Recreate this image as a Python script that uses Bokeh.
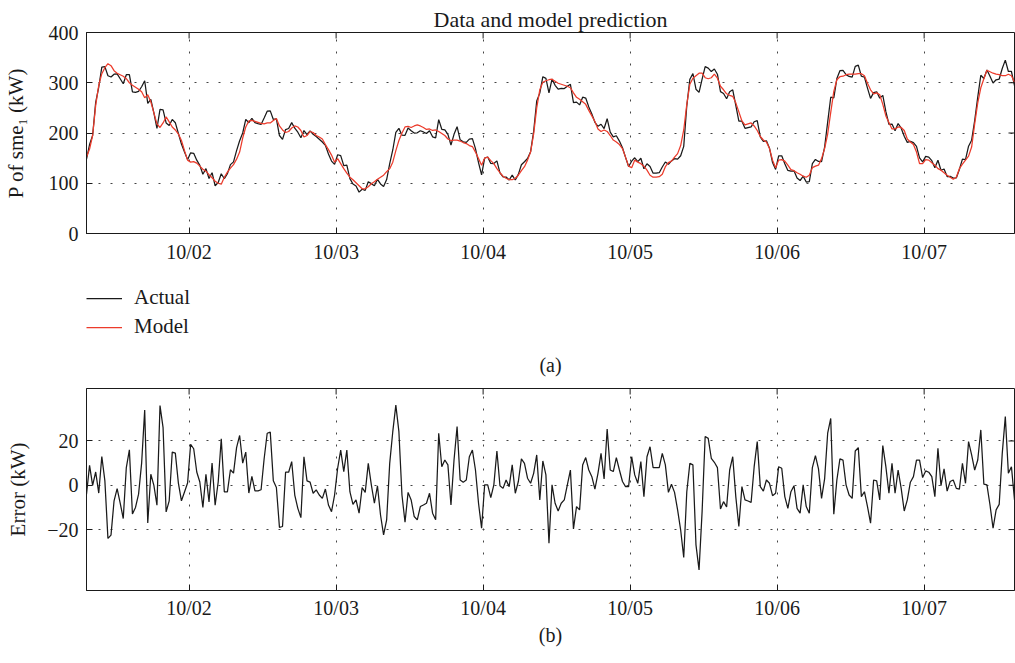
import math
import datetime as dt
from bokeh.plotting import figure
from bokeh.models import (FixedTicker, DatetimeTickFormatter, Legend, Title,
                          Range1d, ColumnDataSource)
from bokeh.layouts import column
from bokeh.embed import file_html
from bokeh.resources import INLINE

# ---------------- data (30-min samples) ----------------
start_time = dt.datetime(2014, 10, 1, 7, 15)
step_minutes = 30

model = [
    152, 168, 195, 255, 295, 318, 330, 338, 334, 324,
    319, 316, 313, 308, 300, 295, 291, 287, 282, 270,
    276, 262, 240, 218, 211, 220, 232, 222, 212, 206,
    198, 185, 165, 146, 142, 143, 140, 134, 128, 124,
    117, 111, 104, 100, 98, 112, 122, 130, 137, 148,
    162, 190, 212, 224, 225, 223, 221, 219, 218, 220,
    220, 225, 229, 214, 206, 201, 203, 210, 214, 212,
    205, 192, 195, 203, 201, 195, 192, 188, 177, 167,
    156, 142, 149, 139, 129, 120, 112, 107, 101, 95,
    89, 89, 93, 99, 103, 108, 112, 116, 123, 129,
    142, 165, 185, 200, 212, 213, 211, 214, 216, 214,
    211, 207, 208, 205, 206, 203, 199, 195, 188, 185,
    186, 186, 184, 181, 179, 175, 173, 162, 149, 136,
    150, 152, 145, 139, 129, 121, 114, 110, 107, 107,
    110, 116, 125, 133, 146, 162, 198, 250, 286, 301,
    304, 306, 307, 303, 299, 297, 295, 293, 290, 280,
    271, 267, 262, 257, 245, 234, 223, 208, 203, 206,
    203, 195, 186, 182, 177, 169, 152, 134, 131, 146,
    142, 139, 134, 126, 116, 112, 112, 113, 118, 133,
    141, 144, 152, 159, 175, 206, 257, 297, 309, 314,
    319, 319, 310, 308, 310, 317, 309, 293, 286, 278,
    275, 273, 260, 242, 224, 216, 218, 220, 214, 205,
    193, 186, 182, 169, 146, 131, 146, 147, 144, 136,
    127, 125, 121, 118, 114, 112, 116, 131, 134, 136,
    149, 169, 198, 241, 283, 306, 312, 313, 316, 317,
    317, 317, 318, 318, 314, 299, 286, 278, 280, 276,
    257, 234, 221, 208, 208, 212, 211, 205, 188, 182,
    177, 162, 139, 139, 147, 146, 141, 136, 129, 126,
    121, 116, 112, 108, 112, 129, 138, 146, 154, 172,
    218, 260, 290, 308, 325, 322, 319, 317, 316, 314,
    314, 317, 314, 301,
]

error = [
    -4, 9, 0, 6, -3.5, 13, 2, -24, -22.5, -7,
    -1.5, -8, -15, 8, 16, -13, -10, -4, 10, 34,
    -17, 5, 0, -9, 36, 26, -12, -7, 15, 14.5,
    1, -7, -3, 1, 18.5, 16.5, 6, 1.5, -10, 5,
    -7.5, 10, -9, 1.5, 21, -3, -3, 7, 5.5, 17,
    22.5, 10, 15, -3.5, 4, -2.5, -2.5, -2, 12, 23.5,
    24, 2, -1, -19, -18.6, 5.9, 5.9, 10.7, -4.4, -10.4,
    -14.6, 12.9, 2, 1.4, -3.6, -2.1, -4.4, -5.9, -1.7, -8.9,
    -11.9, -4.4, 7.7, 15.9, 6.2, 15.9, -2.9, -8.6, -6.6, -12.6,
    -1, -3.2, 9.9, 0.2, -8.1, -0.2, -13.4, -22.4, -15.6, 9.9,
    24.2, 36.2, 24.2, -4.4, -16.7, -3.2, -6.6, -14.1, -15.6, -9.6,
    -8.9, -8.1, -3.6, -12.6, -15.6, 23.5, 8.4, 11.4, 9.2, -8.9,
    11.4, 26.5, 2.4, 1.4, 2.4, 12.9, 15.9, 6.9, -8.1, -19.4,
    0.2, 0.2, -5.6, 0.2, 15.5, -0.2, -1.4, 2.4, -0.6, 9.2,
    -3.6, 1.7, 11.9, 9.9, 3.2, 0.9, 5.4, 13.7, -6.6, 11,
    4.7, -26.2, 0.2, -8.1, -11.6, -8.1, -6.6, 0.2, 6.9, -19.7,
    -9.6, -11.1, 9.2, 12.5, 6.9, 3.9, -1.7, 5.4, 14.4, 2.9,
    25.4, 6.9, 6.2, 12.5, 6.9, 1.7, -0.6, -0.6, 12.9, 4.7,
    0.9, 10.7, -5.1, 12.9, 17.4, 8, 8, 8, 14.4, 9.2,
    -3.2, 0.5, -3.2, -11.1, -20.2, -32.6, -2.9, 9.9, 9.2, -26.9,
    -38.2, -11.9, 22, 21.2, 12.2, 10.4, 8, -10.7, -7.4, -9.8,
    6.9, 12.9, -5.1, -18.6, -0.6, -6.6, -7.1, -7.7, 8.4, 19.7,
    -0.6, -2.6, 2.4, 0.9, -4.7, -3.6, 8.4, 7.7, -5.1, -10.4,
    -2.9, -0.2, -10.4, -12.6, 0.2, -9.6, -12.6, 8, 13.4, 7.4,
    -5.9, 2.9, 23.5, 30.2, -13.1, 2.4, 11.9, 11.4, 0.2, -4.4,
    -5.9, 15.5, 17, -5.1, -2.9, -9.6, -17.1, 2.4, 2, -6.6,
    17.9, 8.4, -3.6, 9.9, -3.6, 6.9, -1.4, -11.6, -6.6, 1.4,
    3.9, 11.4, 11.4, 3.5, 6.5, 5.9, 3.9, -5.1, 16.7, -0.2,
    7.4, -2.6, 1.7, 2.4, -1.4, -1.7, 9.9, 0.9, 19.7, 13.7,
    6.9, 11.4, 25, 0.5, 0.2, -8.9, -19.4, -11.1, -8.6, 14.4,
    31, 5.4, 8.4, -6.6,
]

# Error = Actual - Model, so the measured series is model + error
actual = [round(m + e, 1) for m, e in zip(model, error)]

times = [start_time + dt.timedelta(minutes=step_minutes * i) for i in range(len(model))]

day_ticks = [dt.datetime(2014, 10, d) for d in range(2, 8)]
day_tick_labels = ["10/02", "10/03", "10/04", "10/05", "10/06", "10/07"]
p_ticks = [0, 100, 200, 300, 400]
p_limits = (0, 400)
err_ticks = [-20, 0, 20]
err_tick_labels = ["\u221220", "0", "20"]
err_limits = (-47.5, 43.7)

# ---------------- styling ----------------
FONT = "Liberation Serif"
TICK_SIZE = "20px"
LABEL_SIZE = "21px"
BLACK = "#1a1a1a"
RED = "#ec3b2b"
W = 1015

epoch = dt.datetime(1970, 1, 1)
tick_ms = [(d - epoch).total_seconds() * 1000.0 for d in day_ticks]
x_labels = {t: lab for t, lab in zip(tick_ms, day_tick_labels)}

src = ColumnDataSource(dict(t=times, actual=actual, model=model, error=error))
x_range = Range1d(times[0], times[-1])


def style(p, yticks, ylim, ylabels=None):
    xt = FixedTicker(ticks=tick_ms, minor_ticks=[])
    yt = FixedTicker(ticks=yticks, minor_ticks=[])
    p.xaxis.ticker = xt
    p.xgrid.ticker = xt
    p.yaxis.ticker = yt
    p.ygrid.ticker = yt
    p.xaxis.formatter = DatetimeTickFormatter(days="%m/%d", months="%m/%d",
                                              hours="%m/%d")
    p.xaxis.major_label_overrides = x_labels
    if ylabels:
        p.yaxis.major_label_overrides = dict(zip(yticks, ylabels))
    for ax in (p.xaxis, p.yaxis):
        ax.major_label_text_font = FONT
        ax.major_label_text_font_size = TICK_SIZE
        ax.major_label_text_color = BLACK
        ax.axis_label_text_font = FONT
        ax.axis_label_text_font_size = LABEL_SIZE
        ax.axis_label_text_font_style = "normal"
        ax.axis_label_text_color = BLACK
        ax.axis_line_color = BLACK
        ax.major_tick_line_color = BLACK
        ax.major_tick_in = 6
        ax.major_tick_out = 0
        ax.minor_tick_line_color = None
    p.xaxis.major_label_standoff = 7
    p.yaxis.major_label_standoff = 8
    for g in (p.xgrid, p.ygrid):
        g.grid_line_color = "#444444"
        g.grid_line_dash = "2 10"
        g.grid_line_width = 1
    p.outline_line_color = BLACK
    p.outline_line_alpha = 1
    # inward ticks along the top and right edges of the box
    p.ray(x=day_ticks, y=[ylim[1]] * len(day_ticks), length=6,
          angle=-math.pi / 2, length_units="screen", line_color=BLACK)
    p.ray(x=[times[-1]] * len(yticks), y=yticks, length=6, angle=math.pi,
          length_units="screen", line_color=BLACK)
    p.background_fill_color = "white"
    p.border_fill_color = "white"


# ---------------- top panel ----------------
p1 = figure(width=W, height=265, x_axis_type="datetime", x_range=x_range,
            y_range=Range1d(*p_limits), output_backend="svg",
            toolbar_location=None, min_border_left=85, min_border_right=1,
            min_border_top=32, min_border_bottom=29)
p1.title.text = "Data and model prediction"
p1.title.align = "center"
p1.title.text_font = FONT
p1.title.text_font_size = "22px"
p1.title.text_font_style = "normal"
p1.title.text_color = BLACK
p1.title.standoff = 1

r_act = p1.line("t", "actual", source=src, line_color=BLACK, line_width=1.25)
r_mod = p1.line("t", "model", source=src, line_color=RED, line_width=1.25)
style(p1, p_ticks, p_limits)
p1.yaxis[0].axis_label = "P of sme\u2081 (kW)"
p1.yaxis[0].axis_label_standoff = 18

# ---------------- legend strip with caption (a) ----------------
# the strip shows the same two series, scrolled out of view, so only the
# legend remains visible
pl = figure(width=W, height=115, x_axis_type="datetime", x_range=x_range,
            y_range=Range1d(-2000, -1000), output_backend="svg",
            toolbar_location=None, min_border_left=85, min_border_right=1,
            min_border_top=0, min_border_bottom=30)
pl.axis.visible = False
pl.grid.visible = False
pl.outline_line_color = None
la = pl.line("t", "actual", source=src, line_color=BLACK, line_width=1.25)
lm = pl.line("t", "model", source=src, line_color=RED, line_width=1.25)
legend = Legend(items=[("Actual", [la]), ("Model", [lm])],
                location=(0, 11), orientation="vertical",
                border_line_color=None, background_fill_alpha=0,
                label_text_font=FONT, label_text_font_size=LABEL_SIZE,
                label_text_color=BLACK, glyph_width=36, glyph_height=20,
                label_height=20, label_standoff=12, spacing=4, padding=0,
                margin=0)
pl.add_layout(legend)
pl.add_layout(Title(text="(a)", align="center", text_font=FONT,
                    text_font_size=TICK_SIZE, text_font_style="normal",
                    text_color=BLACK, standoff=3), "below")

# ---------------- bottom panel ----------------
p2 = figure(width=W, height=283, x_axis_type="datetime", x_range=x_range,
            y_range=Range1d(*err_limits), output_backend="svg",
            toolbar_location=None, min_border_left=85, min_border_right=1,
            min_border_top=8, min_border_bottom=73)
p2.line("t", "error", source=src, line_color=BLACK, line_width=1.25)
style(p2, err_ticks, err_limits, err_tick_labels)
p2.xaxis.major_label_standoff = 6
p2.yaxis[0].axis_label = "Error (kW)"
p2.yaxis[0].axis_label_standoff = 14
p2.add_layout(Title(text="(b)", align="center", text_font=FONT,
                    text_font_size=TICK_SIZE, text_font_style="normal",
                    text_color=BLACK, standoff=0), "below")

layout = column(p1, pl, p2, spacing=0)
open("out.html", "w").write(file_html(layout, INLINE))
